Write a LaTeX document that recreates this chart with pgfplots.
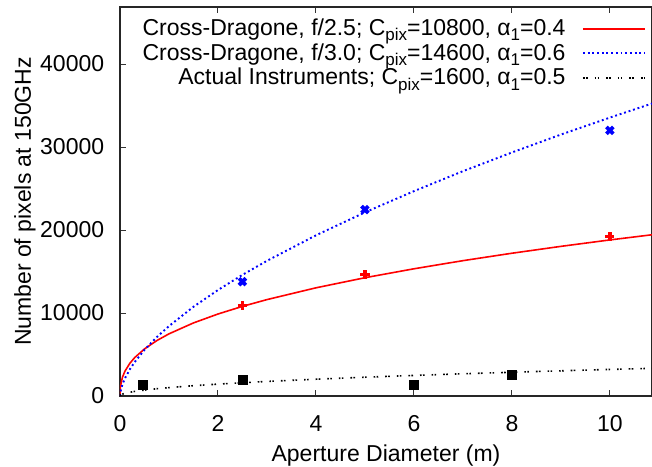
\documentclass[border=0pt]{standalone}
\usepackage{fontspec}
\setmainfont{Liberation Sans}
\usepackage{pgfplots}
\pgfplotsset{compat=1.18}
\newcommand\sub[1]{\raisebox{-0.45ex}{\fontsize{17bp}{17bp}\selectfont #1}}
\definecolor{gpred}{RGB}{255,0,0}
\definecolor{gpblue}{RGB}{0,0,255}
\begin{document}
\fontsize{23bp}{25bp}\selectfont
\begin{tikzpicture}
\begin{axis}[
  scale only axis,
  width=532bp, height=389bp,
  xmin=0, xmax=10.86, ymin=0, ymax=46870,
  xtick={0,2,4,6,8,10},
  ytick={0,10000,20000,30000,40000},
  tick align=inside,
  major tick length=6bp,
  xtick pos=both, ytick pos=left,
  axis line style={line width=1.3bp, black!85},
  tick style={line width=1bp, black!80},
  /pgf/number format/assume math mode=true,
  /pgf/number format/1000 sep={},
  scaled y ticks=false,
  tick label style={font=\fontsize{23bp}{25bp}\selectfont},
  label style={font=\fontsize{23bp}{25bp}\selectfont},
  xlabel={Aperture Diameter (m)},
  ylabel={Number of pixels at 150GHz},
  xticklabel style={yshift=-12bp},
  yticklabel style={xshift=-8bp},
  xlabel style={yshift=3bp},
  ylabel style={yshift=-11bp},
  clip=true,
  legend plot pos=right,
  legend cell align=right,
  legend style={draw=none, fill=none, at={(axis cs:10.76,45900)}, anchor=north east,
    font=\fontsize{23bp}{25bp}\selectfont, row sep=-0.5bp, inner sep=1bp,
    nodes={inner sep=2.5bp},
    /tikz/every odd column/.append style={column sep=14bp}},
  legend image code/.code={\draw[#1] (0bp,0bp) -- (62bp,0bp);},
]
\addplot[gpred, line width=1.6bp] coordinates {
(0,0) (0.01,1187) (0.05,2258) (0.1,2980) (0.2,3933) (0.3,4626) (0.5,5672) (0.75,6670)
(1,7489) (1.5,8806) (2,9879) (2.5,10800) (3,11615) (4,13034) (5,14251) (6,15326)
(7,16306) (8,17201) (9,18029) (10,18804) (10.86,19427)};
\addlegendentry{Cross-Dragone, f/2.5; C\sub{pix}=10800, α\sub{1}=0.4}
\addplot[color=gpblue, line width=1.9bp, dash pattern=on 1.9bp off 2.8bp] coordinates {
(0,0) (0.01,532) (0.05,1396) (0.1,2117) (0.2,3206) (0.3,4092) (0.5,5563) (0.75,7091)
(1,8424) (1.5,10751) (2,12769) (2.5,14600) (3,16287) (4,19357) (5,22129) (6,24680)
(7,27086) (8,29340) (9,31501) (10,33542) (10.86,35234)};
\addlegendentry{Cross-Dragone, f/3.0; C\sub{pix}=14600, α\sub{1}=0.6}
\addplot[black, line width=1.6bp, dash pattern=on 1.6bp off 1.4bp on 1.6bp off 7bp] coordinates {
(0,0) (0.01,101) (0.05,226) (0.1,320) (0.2,453) (0.3,554) (0.5,716) (0.75,876)
(1,1012) (1.5,1239) (2,1431) (2.5,1600) (3,1753) (4,2024) (5,2263) (6,2479)
(7,2677) (8,2862) (9,3036) (10,3200) (10.86,3333)};
\addlegendentry{Actual Instruments; C\sub{pix}=1600, α\sub{1}=0.5}
% data points
\addplot[only marks, gpred, mark=+, mark size=4.6bp, line width=3.4bp, forget plot] coordinates {
(2.5,10870) (5,14610) (10,19200)};
\addplot[only marks, gpblue, mark=x, mark size=4.8bp, line width=3.8bp, forget plot] coordinates {
(2.5,13770) (5,22460) (10,32000)};
\addplot[only marks, black, mark=square*, mark size=4.6bp, forget plot] coordinates {
(0.47,1330) (2.5,1930) (6,1330) (8,2540)};
\coordinate (bl) at (rel axis cs:0,0);
\coordinate (tr) at (axis cs:10.86,46870);
\end{axis}
\pgfresetboundingbox
\useasboundingbox ([shift={(-120bp,-71bp)}]bl) rectangle ([yshift=7bp]tr);
\end{tikzpicture}
\end{document}
